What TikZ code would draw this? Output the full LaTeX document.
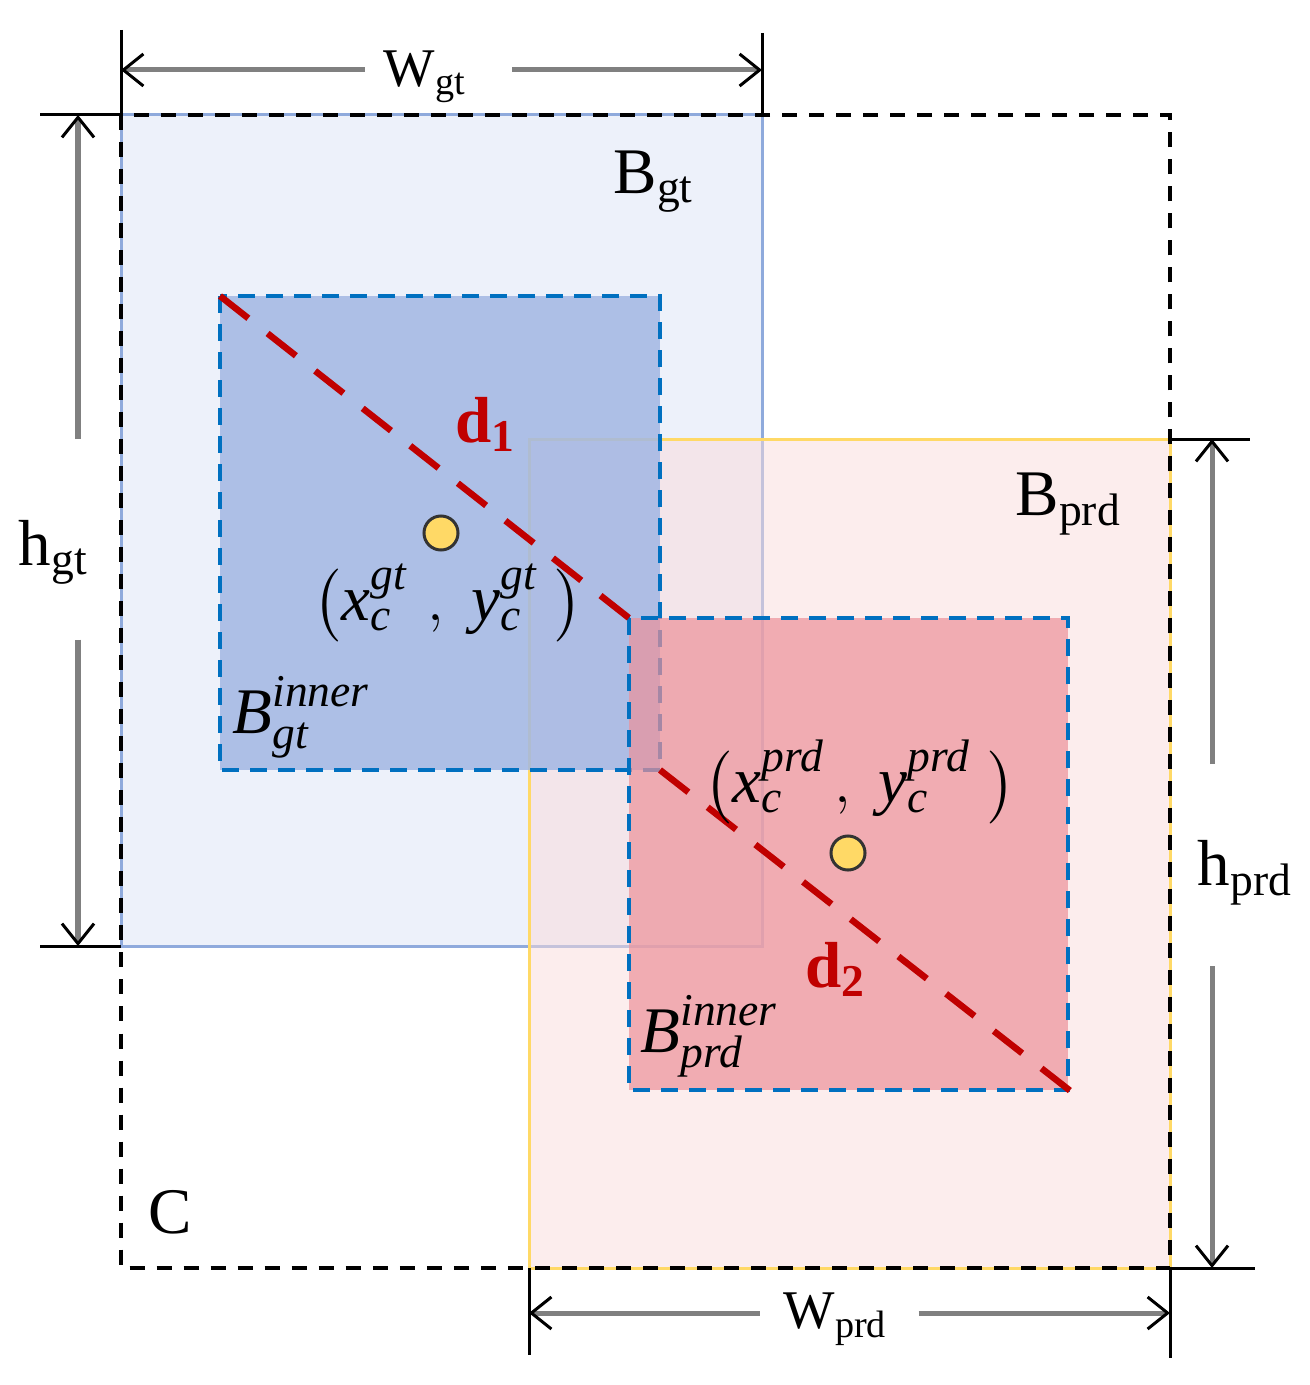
\documentclass[tikz,border=0pt]{standalone}
\usepackage{fontspec}
\setmainfont{Liberation Serif}
\usepackage{amsmath}
\usetikzlibrary{arrows.meta}
\usetikzlibrary{positioning}
\usetikzlibrary{calc}

\definecolor{gtfill}{HTML}{EDF1FA}
\definecolor{gtline}{HTML}{8FAADC}
\definecolor{prdfill}{HTML}{F9DBDB}
\definecolor{prdline}{HTML}{FFD966}
\definecolor{innergt}{HTML}{A2B7E3}
\definecolor{innerprd}{HTML}{EC929A}
\definecolor{innerblue}{HTML}{0070C0}
\definecolor{diagred}{HTML}{C00000}
\definecolor{dotyellow}{HTML}{FFD966}

\newcommand{\tm}[1]{\text{\itshape #1}}

\begin{document}
\begin{tikzpicture}[x=0.01cm,y=-0.01cm,
    font=\fontsize{18.5}{22}\selectfont,
    dimline/.style={draw=black,line width=0.03cm},
    dimarrow/.style={draw=black!50,line width=0.05cm,-{Straight Barb[length=0.2cm,width=0.32cm,line width=0.03cm,color=black]}},
    wlabel/.style={font=\fontsize{15.5}{18}\selectfont,inner sep=0pt},
    boxlabel/.style={anchor=base west,inner sep=0pt},
    boxC/.style={draw=black,line width=0.04cm,dash pattern=on 0.15cm off 0.12cm},
    innerbox/.style={draw=innerblue,line width=0.04cm,dash pattern=on 0.17cm off 0.11cm},
    diag/.style={draw=diagred,line width=0.065cm,dash pattern=on 0.36cm off 0.245cm},
    centerdot/.style={circle,draw=black!80,line width=0.03cm,fill=dotyellow,minimum size=0.34cm,inner sep=0pt}]
    \useasboundingbox (0,0) rectangle (1309,1385);
    % corners of the boxes
    \coordinate (gtNW) at (121,115);
    \coordinate (gtSE) at (762,946);
    \coordinate (prdNW) at (529,439);
    \coordinate (prdSE) at (1170,1268);
    \coordinate (igtNW) at (220,296);
    \coordinate (igtSE) at (660,770);
    \coordinate (iprdNW) at (629,618);
    \coordinate (iprdSE) at (1068,1090);
    % boxes
    \filldraw[fill=gtfill,draw=gtline,line width=0.03cm] (gtNW) rectangle (gtSE);
    \fill[prdfill,fill opacity=0.5] (prdNW) rectangle (prdSE);
    \draw[prdline,line width=0.03cm] (prdNW) rectangle (prdSE);
    \filldraw[innerbox,fill=innergt,fill opacity=0.85] (igtNW) rectangle (igtSE);
    \filldraw[innerbox,fill=innerprd,fill opacity=0.7] (iprdNW) rectangle (iprdSE);
    \draw[boxC] (gtNW) rectangle (prdSE);
    % distances between the corners
    \draw[diag] (igtNW) -- (iprdNW);
    \draw[diag] (igtSE) -- ($(iprdSE)+(5,3)$);
    \node[centerdot] (cgt) at (441,533) {};
    \node[centerdot] (cprd) at (848,853) {};
    % labels
    \node[boxlabel] (Bgt) at (613,193) {B$_{\text{gt}}$};
    \node[boxlabel] (Bprd) at (1015,515) {B$_{\text{prd}}$};
    \node[boxlabel] (C) at (148,1233) {C};
    \node[boxlabel,text=diagred] (d1) at (455,442) {\textbf{d}$_{\textbf{1}}$};
    \node[boxlabel,text=diagred] (d2) at (805,987) {\textbf{d}$_{\textbf{2}}$};
    \node[boxlabel] (Bigt) at (232,733) {$\tm{B}_{\tm{gt}}^{\tm{inner}}$};
    \node[boxlabel] (Biprd) at (640,1052) {$\tm{B}_{\tm{prd}}^{\tm{inner}}$};
    \node (cgtlab) at (448,603) {$\bigl(\tm{x}_{\tm{c}}^{\tm{gt}}\,\,,\;\tm{y}_{\tm{c}}^{\tm{gt}}\;\bigr)$};
    \node (cprdlab) at (860,782) {$\bigl(\tm{x}_{\tm{c}}^{\tm{prd}}\,,\;\tm{y}_{\tm{c}}^{\tm{prd}}\;\bigr)$};
    % width and height marks
    \coordinate (wgtA) at (121,30);
    \coordinate (wgtB) at (762,33);
    \coordinate (wgtL) at (121,70);
    \coordinate (wgtR) at (762,70);
    \draw[dimline] (wgtA) -- (gtNW);
    \draw[dimline] (wgtB) -- (gtSE |- gtNW);
    \node[wlabel,anchor=base west] (wgt) at (383,87) {W$_{\text{gt}}$};
    \draw[dimarrow] ([xshift=-0.18cm]wgt.west |- wgtL) -- (wgtL);
    \draw[dimarrow] ([xshift=0.45cm]wgt.east |- wgtR) -- (wgtR);

    \coordinate (hgtA) at (40,115);
    \coordinate (hgtB) at (40,946);
    \coordinate (hgtT) at (78,115);
    \coordinate (hgtD) at (78,946);
    \draw[dimline] (hgtA) -- (gtNW);
    \draw[dimline] (hgtB) -- (gtNW |- gtSE);
    \node[boxlabel] (hgt) at (18,565) {h$_{\text{gt}}$};
    \draw[dimarrow] ([yshift=0.8cm]hgt.north -| hgtT) -- (hgtT);
    \draw[dimarrow] ([yshift=-0.55cm]hgt.south -| hgtD) -- (hgtD);

    \coordinate (hprdA) at (1250,439);
    \coordinate (hprdB) at (1255,1268);
    \coordinate (hprdT) at (1212,439);
    \coordinate (hprdD) at (1212,1268);
    \draw[dimline] (prdSE |- prdNW) -- (hprdA);
    \draw[dimline] (prdSE) -- (hprdB);
    \node[boxlabel] (hprd) at (1197,885) {h$_{\text{prd}}$};
    \draw[dimarrow] ([yshift=0.75cm]hprd.north -| hprdT) -- (hprdT);
    \draw[dimarrow] ([yshift=-0.6cm]hprd.south -| hprdD) -- (hprdD);

    \coordinate (wprdA) at (529,1355);
    \coordinate (wprdB) at (1170,1358);
    \coordinate (wprdL) at (529,1313);
    \coordinate (wprdR) at (1170,1313);
    \draw[dimline] (prdNW |- prdSE) -- (wprdA);
    \draw[dimline] (prdSE) -- (wprdB);
    \node[wlabel,anchor=base west] (wprd) at (783,1328) {W$_{\text{prd}}$};
    \draw[dimarrow] ([xshift=-0.23cm]wprd.west |- wprdL) -- (wprdL);
    \draw[dimarrow] ([xshift=0.3cm]wprd.east |- wprdR) -- (wprdR);
\end{tikzpicture}
\end{document}
